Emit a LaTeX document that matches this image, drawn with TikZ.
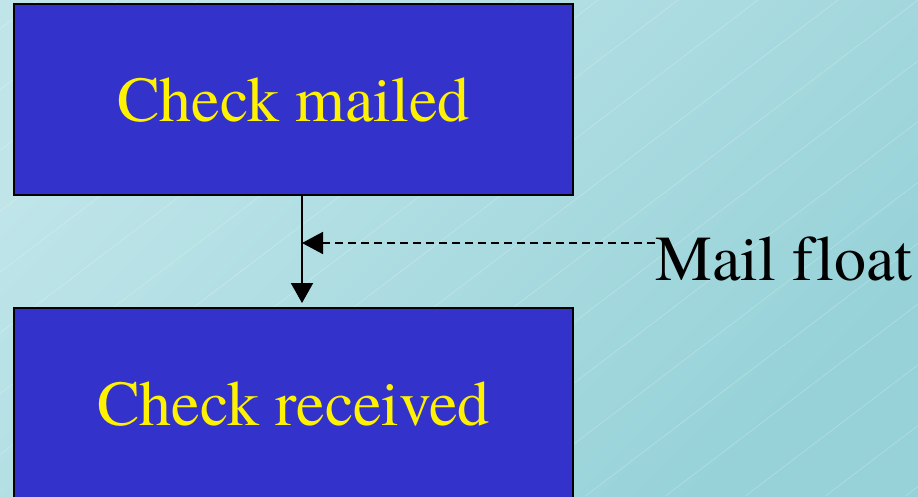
\documentclass[tikz,border=0pt]{standalone}
\usepackage{fontspec}
\newfontfamily\tnrfont{TeX Gyre Termes}[Ligatures=CommonOff]
\usetikzlibrary{arrows.meta}
\definecolor{bgA}{HTML}{BFE5E9}
\definecolor{bgB}{HTML}{96D2D8}
\definecolor{boxblue}{HTML}{3333CC}
\begin{document}
\begin{tikzpicture}[x=1pt,y=-1pt,
  stepbox/.style={draw=black, line width=2pt, fill=boxblue, text=yellow,
    minimum width=559pt, minimum height=191pt, inner sep=0pt,
    font=\tnrfont\fontsize{64}{76}\selectfont, text height=43pt, text depth=0pt},
  link/.style={line width=2pt, -{Triangle[width=22pt,length=20pt]}},
  dlink/.style={line width=1.6pt, dash pattern=on 8pt off 5pt, -{Triangle[width=22pt,length=21pt]}},
  hatch/.style={white, opacity=0.3, line width=0.5pt},
  lbl/.style={anchor=base west, inner sep=0pt, text=black, font=\tnrfont\fontsize{64}{76}\selectfont}]
\useasboundingbox (0,0) rectangle (918,496);
\shade[top color=bgA, bottom color=bgB, shading angle=45] (0,0) rectangle (918,496);
\begin{scope}
\clip (0,0) rectangle (918,496);
\foreach \c in {38,118,...,1600} \draw[hatch] (\c,0) -- ({\c-652.6},496);
\node[stepbox] (mailed) at (293.5,99.5) {Check mailed};
\node[stepbox] (received) at (293.5,403.5) {Check received};
\end{scope}
\node[lbl] (float) at (655,280) {Mail float};
\coordinate (ax) at (302,0);
\coordinate (my) at (0,243);
\draw[link, shorten >=4pt] (mailed.south -| ax) -- (received.north -| ax);
\draw[dlink] (float.west |- my) -- (ax |- my);
\end{tikzpicture}
\end{document}
